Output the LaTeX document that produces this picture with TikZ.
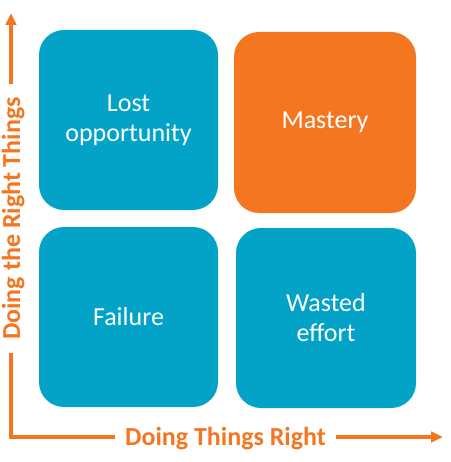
\documentclass[tikz,border=0pt]{standalone}
\usepackage{fontspec}
\setmainfont{Carlito}
\usetikzlibrary{arrows.meta}
\definecolor{teal}{HTML}{02A3C7}
\definecolor{orng}{HTML}{F47621}
\begin{document}
\begin{tikzpicture}[x=1pt,y=-1pt,
  quad/.style={rounded corners=25pt, minimum width=179pt, minimum height=180pt,
    text=white, align=center, inner sep=0pt,
    font=\fontsize{26}{30}\selectfont},
  axis/.style={draw=orng, line width=3.5pt},
  axlabel/.style={text=orng, font=\fontsize{26}{30}\selectfont\bfseries, inner ysep=0pt},
  tip/.style={-{Triangle[length=12pt,width=10.5pt]}}
]
\useasboundingbox (0,0) rectangle (450,462);
\node[quad, fill=teal] (lost) at (128.5,120) {Lost\\opportunity};
\node[quad, fill=orng, minimum width=182pt, minimum height=181pt] (mastery) at (325,122.5) {Mastery};
\node[quad, fill=teal] (failure) at (128.5,317) {Failure};
\node[quad, fill=teal, minimum width=180pt] (wasted) at (326,318) {Wasted\\effort};
\coordinate (corner) at (11,437);
\coordinate (ytip) at (11,13);
\coordinate (xtip) at (443,437);
\node[axlabel, anchor=base, inner xsep=10pt] (xlabel) at (225.5,445) {Doing Things Right};
\node[axlabel, anchor=base, rotate=90, inner xsep=13pt] (ylabel) at (20,218.5) {Doing the Right Things};
\draw[axis] (ylabel.west -| corner) -- (corner) -- (xlabel.west |- corner);
\draw[axis, tip] (ylabel.east -| corner) -- (ytip);
\draw[axis, tip] (xlabel.east |- corner) -- (xtip);
\end{tikzpicture}
\end{document}
